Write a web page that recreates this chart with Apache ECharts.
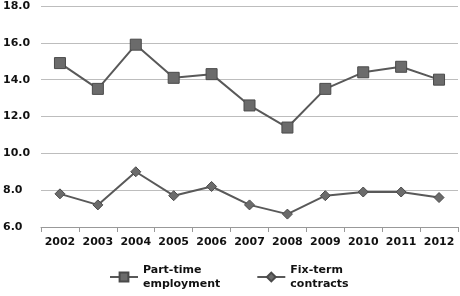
<!DOCTYPE html>
<html>
<head>
<meta charset="utf-8">
<script src="https://cdn.jsdelivr.net/npm/echarts@6/dist/echarts.min.js"></script>
<style>
  html, body { margin: 0; padding: 0; background: #fff; }
  #chart { width: 460px; height: 296px; }
</style>
</head>
<body>
<div id="chart"></div>
<script>
const years = ['2002', '2003', '2004', '2005', '2006', '2007', '2008', '2009', '2010', '2011', '2012']
const partTime = [14.9, 13.5, 15.9, 14.1, 14.3, 12.6, 11.4, 13.5, 14.4, 14.7, 14.0]
const fixTerm = [7.8, 7.2, 9.0, 7.7, 8.2, 7.2, 6.7, 7.7, 7.9, 7.9, 7.6]
const seriesNames = ['Part-time\nemployment', 'Fix-term\ncontracts']

const chart = echarts.init(document.getElementById('chart'))

const lineStyle = { color: '#595959', width: 2 }
const itemStyle = { color: '#6b6b6b', borderColor: '#4a4a4a', borderWidth: 1 }

chart.setOption({
  animation: false,
  textStyle: { fontFamily: 'DejaVu Sans, Verdana, sans-serif' },
  grid: { left: 38, right: 2, top: 6, bottom: 69 },
  legend: {
    bottom: 0,
    left: 104,
    itemGap: 36,
    itemWidth: 28,
    itemHeight: 11,
    textStyle: { color: '#111', fontWeight: 'bold', fontSize: 11, lineHeight: 14 },
    data: seriesNames
  },
  xAxis: {
    type: 'category',
    data: years,
    boundaryGap: true,
    axisLine: { lineStyle: { color: '#999', width: 1 } },
    axisTick: { show: true, length: 5, interval: 0, lineStyle: { color: '#999' } },
    axisLabel: { color: '#111', fontWeight: 'bold', fontSize: 11, margin: 10, interval: 0, hideOverlap: false }
  },
  yAxis: {
    type: 'value',
    min: 6,
    max: 18,
    interval: 2,
    axisLine: { show: false },
    axisTick: { show: false },
    splitLine: { lineStyle: { color: '#bdbdbd', width: 1 } },
    axisLabel: {
      color: '#111',
      fontWeight: 'bold',
      fontSize: 11,
      align: 'left',
      margin: 38,
      formatter: (v) => v.toFixed(1)
    }
  },
  series: [
    {
      name: seriesNames[0],
      type: 'line',
      data: partTime,
      symbol: 'rect',
      symbolSize: 11,
      lineStyle: lineStyle,
      itemStyle: itemStyle
    },
    {
      name: seriesNames[1],
      type: 'line',
      data: fixTerm,
      symbol: 'diamond',
      symbolSize: 10,
      lineStyle: lineStyle,
      itemStyle: itemStyle
    }
  ]
})
</script>
</body>
</html>
